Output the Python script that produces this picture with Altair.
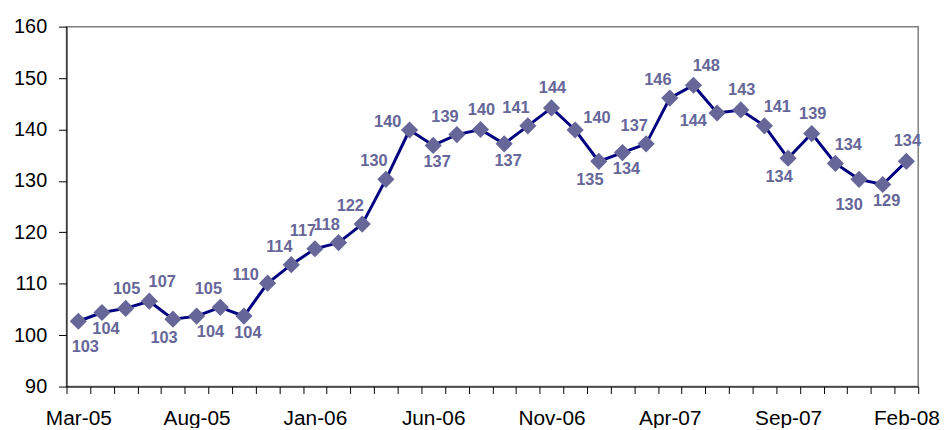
import json
import altair as alt
import pandas as pd

months = ["Mar-05", "Apr-05", "May-05", "Jun-05", "Jul-05", "Aug-05", "Sep-05", "Oct-05",
          "Nov-05", "Dec-05", "Jan-06", "Feb-06", "Mar-06", "Apr-06", "May-06", "Jun-06",
          "Jul-06", "Aug-06", "Sep-06", "Oct-06", "Nov-06", "Dec-06", "Jan-07", "Feb-07",
          "Mar-07", "Apr-07", "May-07", "Jun-07", "Jul-07", "Aug-07", "Sep-07", "Oct-07",
          "Nov-07", "Dec-07", "Jan-08", "Feb-08"]
values = [102.7, 104.4, 105.2, 106.6, 103.1, 103.7, 105.4, 103.7,
          110.1, 113.7, 116.8, 118.0, 121.6, 130.3, 139.9, 136.9,
          139.0, 140.0, 137.2, 140.7, 144.2, 139.9, 133.8, 135.5,
          137.2, 146.1, 148.6, 143.2, 143.8, 140.7, 134.4, 139.2,
          133.4, 130.3, 129.3, 133.8]
labels = ["103", "104", "105", "107", "103", "104", "105", "104",
          "110", "114", "117", "118", "122", "130", "140", "137",
          "139", "140", "137", "141", "144", "140", "135", "134",
          "137", "146", "148", "144", "143", "141", "134", "139",
          "134", "130", "129", "134"]
label_side = ["bbr", "b", "a", "ar", "bl", "br", "al", "b",
              "l", "al", "al", "al", "al", "al", "l", "b",
              "al", "a", "b", "al", "a", "r", "bl", "b",
              "al", "al", "ar", "lb", "a", "ar", "bl", "a",
              "ar", "bbl", "b", "a"]
y_ticks = [90, 100, 110, 120, 130, 140, 150, 160]

# label offsets for each placement class (style)
offsets = {
    "b": (4, 17), "bbr": (7, 26), "bbl": (-10, 26), "bl": (-9, 19), "br": (14, 16),
    "a": (1, -20), "ar": (13, -19), "al": (-12, -18), "r": (22, -12),
    "l": (-22, -8), "lb": (-24, 8),
}

df = pd.DataFrame({"month": months, "value": values, "label": labels, "side": label_side})
df["mid"] = [i + 0.5 for i in range(len(months))]

W, H = 859, 363
band = W / len(months)

month_js = json.dumps(months)
x_scale = alt.Scale(domain=[0, len(months)], nice=False, zero=False)
y_scale = alt.Scale(domain=[90, 160], nice=False, zero=False)

x_axis = alt.Axis(
    values=list(range(len(months) + 1)),
    labelExpr=f"(datum.value % 5 == 0 && datum.value < {len(months)}) ? {month_js}[datum.value] : ''",
    labelOffset=band / 2, labelOverlap=False, labelBound=False, labelFlush=False,
    title=None, grid=False, tickSize=7, tickColor="black", domainColor="black",
    labelFont="Liberation Sans", labelFontSize=21, labelColor="black", labelPadding=14,
)
y_axis = alt.Axis(
    values=y_ticks, title=None, grid=False, tickSize=8, tickColor="black",
    domainColor="black", labelFont="Liberation Sans", labelFontSize=20,
    labelColor="black", labelPadding=12,
)

base = alt.Chart(df).encode(
    x=alt.X("mid:Q", scale=x_scale, axis=x_axis),
    y=alt.Y("value:Q", scale=y_scale, axis=y_axis),
)

line = base.mark_line(color="#000080", strokeWidth=3)
pts = base.mark_point(shape="diamond", size=300, filled=True, color="#666699", opacity=1)

text_layers = []
for side, (dx, dy) in offsets.items():
    text_layers.append(
        base.transform_filter(alt.datum.side == side).mark_text(
            dx=dx, dy=dy, align="center", baseline="middle",
            font="Liberation Sans", fontSize=16.5, fontWeight="bold", color="#666699",
        ).encode(text="label:N")
    )

chart = alt.layer(line, pts, *text_layers).properties(
    width=W, height=H,
    autosize=alt.AutoSizeParams(type="none"),
    padding={"left": 59, "top": 17, "right": 23, "bottom": 40},
).configure_view(stroke="#808080", strokeWidth=1.5)

chart.save("out.html", embed_options={"renderer": "svg", "actions": False})
